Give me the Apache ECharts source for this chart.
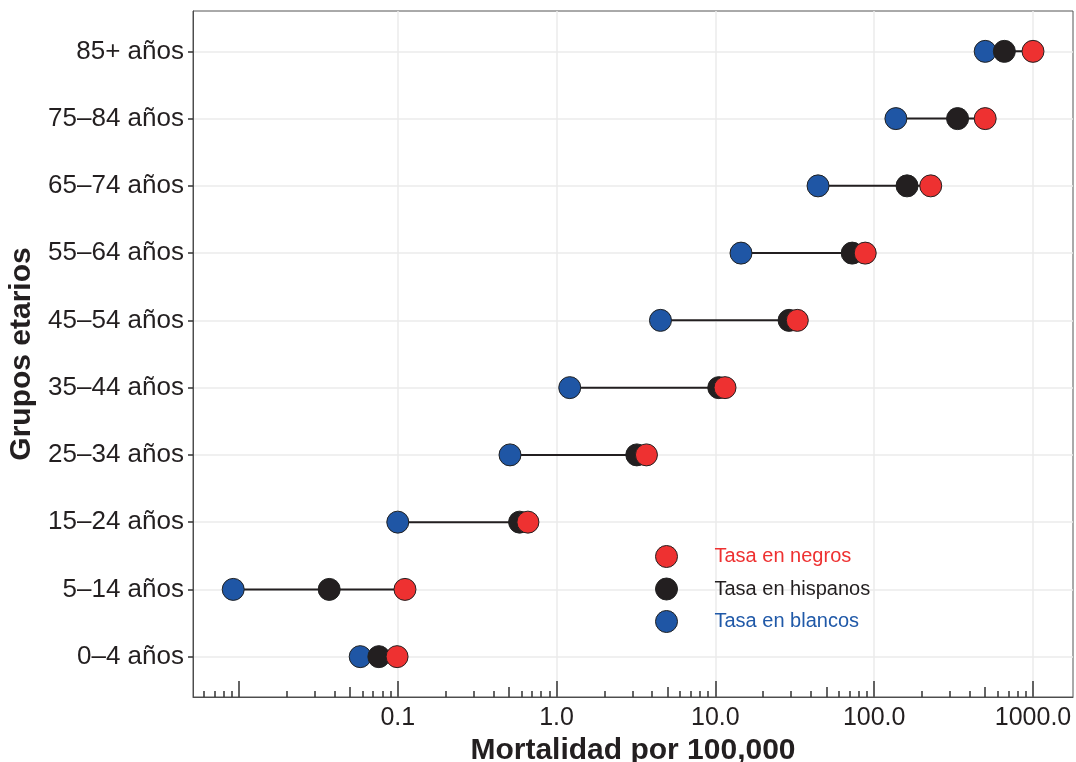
<!DOCTYPE html>
<html>
<head>
<meta charset="utf-8">
<script src="https://cdn.jsdelivr.net/npm/echarts@6/dist/echarts.min.js"></script>
<style>html,body{margin:0;padding:0;background:#fff}#c{width:1076px;height:762px}</style>
</head>
<body>
<div id="c"></div>
<script>
const categories = ['0–4 años','5–14 años','15–24 años','25–34 años','35–44 años','45–54 años','55–64 años','65–74 años','75–84 años','85+ años'];
const blancos  = [0.058, 0.0092, 0.100, 0.509, 1.21, 4.51, 14.5, 44.3, 137, 500];
const hispanos = [0.076, 0.037, 0.585, 3.20, 10.5, 29.1, 72.7, 161, 335, 660];
const negros   = [0.099, 0.111, 0.660, 3.68, 11.5, 32.8, 87.8, 227, 500, 1000];
const majorLabels = [0.1, 1, 10, 100, 1000];
const majorTicks = [0.01, 0.1, 1, 10, 100, 1000];
const midTicks = [0.05, 0.5, 5, 50, 500];
const minorTicks = [0.006,0.007,0.008,0.009,
  0.02,0.03,0.04,0.06,0.07,0.08,0.09,
  0.2,0.3,0.4,0.6,0.7,0.8,0.9,
  2,3,4,6,7,8,9,
  20,30,40,60,70,80,90,
  200,300,400,600,700,800,900];
const seriesNames = ['Tasa en blancos','Tasa en hispanos','Tasa en negros'];

const RED = '#EE3131', BLACK = '#231F20', BLUE = '#1F56A5';
const FONT = '"Liberation Sans", Arial, Helvetica, sans-serif';
const TXT = '#231F20';
const XMIN = 0.005135, XMAX = 1786;

const segments = categories.map((c, i) => {
  const vals = [blancos[i], hispanos[i], negros[i]];
  return [Math.min(...vals), Math.max(...vals), i];
});
const pts = arr => arr.map((v, i) => [v, i]);

function tickAxis(values, len) {
  return {
    type: 'log', logBase: 10, min: XMIN, max: XMAX, gridIndex: 0, position: 'bottom',
    axisLine: { show: false, onZero: false },
    axisTick: { show: true, inside: true, length: len, customValues: values, lineStyle: { color: '#333', width: 1.5 } },
    axisLabel: { show: false },
    splitLine: { show: false },
    minorTick: { show: false }
  };
}

const chart = echarts.init(document.getElementById('c'));
chart.setOption({
  animation: false,
  backgroundColor: '#fff',
  grid: { left: 193, right: 3, top: 11, bottom: 65, show: true, borderColor: '#555', borderWidth: 1,
    containLabel: false, outerBoundsMode: 'none' },
  legend: {
    orient: 'vertical', left: 650, top: 540, itemWidth: 22, itemHeight: 22, itemGap: 9.5,
    selectedMode: false,
    itemStyle: { borderWidth: 1, borderColor: '#222' },
    textStyle: { fontSize: 20, fontFamily: FONT, padding: [0, 0, 0, 32] },
    data: [
      { name: 'Tasa en negros', textStyle: { color: RED } },
      { name: 'Tasa en hispanos', textStyle: { color: BLACK } },
      { name: 'Tasa en blancos', textStyle: { color: '#2059A8' } }
    ]
  },
  xAxis: [
    {
      type: 'log', logBase: 10, min: XMIN, max: XMAX, gridIndex: 0, position: 'bottom',
      name: 'Mortalidad por 100,000', nameLocation: 'middle', nameGap: 35,
      nameTextStyle: { fontSize: 30, fontWeight: 'bold', color: TXT, fontFamily: FONT },
      axisLine: { show: true, onZero: false, lineStyle: { color: '#4d4d4d', width: 1 } },
      axisTick: { show: false, customValues: majorLabels },
      axisLabel: { show: true, customValues: majorLabels, margin: 9, fontSize: 25, color: TXT, fontFamily: FONT,
        formatter: v => Number(v).toFixed(1) },
      splitLine: { show: true, lineStyle: { color: '#EBEBEB', width: 1.5 } },
      minorTick: { show: false }
    },
    tickAxis(majorTicks, 16),
    tickAxis(midTicks, 10),
    tickAxis(minorTicks, 6)
  ],
  yAxis: {
    type: 'value', min: -0.6, max: 9.6,
    name: 'Grupos etarios', nameLocation: 'middle', nameGap: 145, nameRotate: 90,
    nameTextStyle: { fontSize: 30, fontWeight: 'bold', color: TXT, fontFamily: FONT },
    axisLine: { show: true, onZero: false, lineStyle: { color: '#4d4d4d', width: 1 } },
    axisTick: { show: true, length: 5, customValues: categories.map((c, i) => i), lineStyle: { color: '#333', width: 1.5 } },
    axisLabel: { show: true, customValues: categories.map((c, i) => i), margin: 9, fontSize: 26, color: TXT, fontFamily: FONT,
      formatter: v => categories[Math.round(v)] },
    splitLine: { show: true, lineStyle: { color: '#EBEBEB', width: 1.5 } }
  },
  series: [
    {
      type: 'custom', name: 'segmentos', xAxisIndex: 0, yAxisIndex: 0, z: 1,
      encode: { x: [0, 1], y: 2 },
      data: segments,
      renderItem: (params, api) => {
        const p1 = api.coord([api.value(0), api.value(2)]);
        const p2 = api.coord([api.value(1), api.value(2)]);
        return { type: 'line', shape: { x1: p1[0], y1: p1[1], x2: p2[0], y2: p2[1] },
          style: { stroke: BLACK, lineWidth: 2 } };
      }
    },
    { type: 'scatter', name: seriesNames[0], z: 2, symbol: 'circle', symbolSize: 22, data: pts(blancos),
      itemStyle: { color: BLUE, borderColor: '#222', borderWidth: 1, opacity: 1 } },
    { type: 'scatter', name: seriesNames[1], z: 3, symbol: 'circle', symbolSize: 22, data: pts(hispanos),
      itemStyle: { color: BLACK, borderColor: '#222', borderWidth: 1, opacity: 1 } },
    { type: 'scatter', name: seriesNames[2], z: 4, symbol: 'circle', symbolSize: 22, data: pts(negros),
      itemStyle: { color: RED, borderColor: '#222', borderWidth: 1, opacity: 1 } }
  ]
});
</script>
</body>
</html>
